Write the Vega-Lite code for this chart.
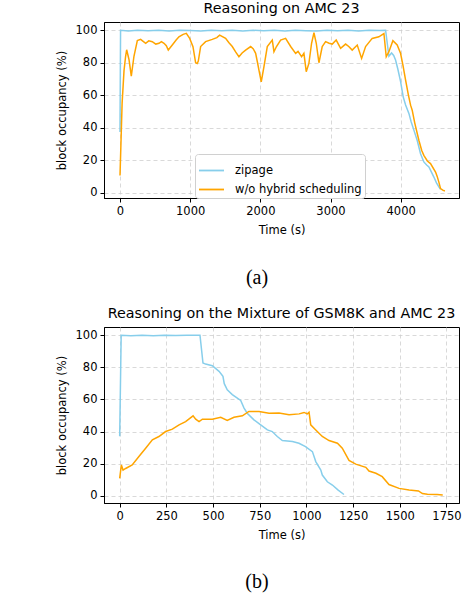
{
  "$schema": "https://vega.github.io/schema/vega-lite/v6.json",
  "padding": {"left": 55, "top": 1, "right": 0, "bottom": 0},
  "autosize": {"type": "pad"},
  "spacing": 16,
  "datasets": {
    "a": [
      {"s":"zipage","t":0,"v":37.4},{"s":"zipage","t":8,"v":100},{"s":"zipage","t":120,"v":99.6},{"s":"zipage","t":250,"v":100},{"s":"zipage","t":400,"v":99.7},{"s":"zipage","t":550,"v":100},{"s":"zipage","t":700,"v":99.5},{"s":"zipage","t":850,"v":100},{"s":"zipage","t":1000,"v":99.8},{"s":"zipage","t":1150,"v":99.6},{"s":"zipage","t":1300,"v":100},{"s":"zipage","t":1450,"v":99.7},{"s":"zipage","t":1600,"v":100},{"s":"zipage","t":1750,"v":99.6},{"s":"zipage","t":1900,"v":100},{"s":"zipage","t":2050,"v":99.7},{"s":"zipage","t":2200,"v":100},{"s":"zipage","t":2350,"v":99.6},{"s":"zipage","t":2500,"v":100},{"s":"zipage","t":2650,"v":99.7},{"s":"zipage","t":2800,"v":99.5},{"s":"zipage","t":2950,"v":100},{"s":"zipage","t":3100,"v":99.7},{"s":"zipage","t":3250,"v":100},{"s":"zipage","t":3400,"v":99.6},{"s":"zipage","t":3550,"v":100},{"s":"zipage","t":3700,"v":99.8},{"s":"zipage","t":3785,"v":100},{"s":"zipage","t":3832,"v":84},{"s":"zipage","t":3870,"v":86},{"s":"zipage","t":3900,"v":84.5},{"s":"zipage","t":3927,"v":81.7},{"s":"zipage","t":3960,"v":76},{"s":"zipage","t":3998,"v":68.5},{"s":"zipage","t":4036,"v":59},{"s":"zipage","t":4070,"v":54},{"s":"zipage","t":4117,"v":48.8},{"s":"zipage","t":4150,"v":43.5},{"s":"zipage","t":4188,"v":38.5},{"s":"zipage","t":4235,"v":32.3},{"s":"zipage","t":4283,"v":24},{"s":"zipage","t":4330,"v":18.9},{"s":"zipage","t":4370,"v":17},{"s":"zipage","t":4402,"v":15.8},{"s":"zipage","t":4440,"v":12.5},{"s":"zipage","t":4473,"v":9.6},{"s":"zipage","t":4510,"v":6},{"s":"zipage","t":4544,"v":3.5},{"s":"zipage","t":4568,"v":2},
      {"s":"w/o hybrid scheduling","t":0,"v":10.5},{"s":"w/o hybrid scheduling","t":12,"v":28},{"s":"w/o hybrid scheduling","t":30,"v":55},{"s":"w/o hybrid scheduling","t":57,"v":75},{"s":"w/o hybrid scheduling","t":80,"v":84},{"s":"w/o hybrid scheduling","t":95,"v":88},{"s":"w/o hybrid scheduling","t":128,"v":82},{"s":"w/o hybrid scheduling","t":161,"v":71.8},{"s":"w/o hybrid scheduling","t":199,"v":84},{"s":"w/o hybrid scheduling","t":247,"v":93.6},{"s":"w/o hybrid scheduling","t":294,"v":94.4},{"s":"w/o hybrid scheduling","t":330,"v":93.2},{"s":"w/o hybrid scheduling","t":366,"v":92},{"s":"w/o hybrid scheduling","t":410,"v":93.5},{"s":"w/o hybrid scheduling","t":460,"v":93},{"s":"w/o hybrid scheduling","t":510,"v":91.5},{"s":"w/o hybrid scheduling","t":556,"v":92},{"s":"w/o hybrid scheduling","t":590,"v":93},{"s":"w/o hybrid scheduling","t":627,"v":92},{"s":"w/o hybrid scheduling","t":660,"v":90.5},{"s":"w/o hybrid scheduling","t":688,"v":87.8},{"s":"w/o hybrid scheduling","t":745,"v":90.9},{"s":"w/o hybrid scheduling","t":800,"v":94},{"s":"w/o hybrid scheduling","t":840,"v":96},{"s":"w/o hybrid scheduling","t":900,"v":97.5},{"s":"w/o hybrid scheduling","t":945,"v":98.1},{"s":"w/o hybrid scheduling","t":993,"v":95},{"s":"w/o hybrid scheduling","t":1040,"v":89.9},{"s":"w/o hybrid scheduling","t":1078,"v":80},{"s":"w/o hybrid scheduling","t":1100,"v":79.5},{"s":"w/o hybrid scheduling","t":1116,"v":81},{"s":"w/o hybrid scheduling","t":1149,"v":90},{"s":"w/o hybrid scheduling","t":1220,"v":93},{"s":"w/o hybrid scheduling","t":1315,"v":94.4},{"s":"w/o hybrid scheduling","t":1380,"v":95.5},{"s":"w/o hybrid scheduling","t":1420,"v":97},{"s":"w/o hybrid scheduling","t":1505,"v":95},{"s":"w/o hybrid scheduling","t":1550,"v":92.5},{"s":"w/o hybrid scheduling","t":1600,"v":90},{"s":"w/o hybrid scheduling","t":1650,"v":86.5},{"s":"w/o hybrid scheduling","t":1695,"v":83.7},{"s":"w/o hybrid scheduling","t":1740,"v":86},{"s":"w/o hybrid scheduling","t":1790,"v":87.8},{"s":"w/o hybrid scheduling","t":1862,"v":90},{"s":"w/o hybrid scheduling","t":1900,"v":88.5},{"s":"w/o hybrid scheduling","t":1933,"v":85.8},{"s":"w/o hybrid scheduling","t":1960,"v":80},{"s":"w/o hybrid scheduling","t":1980,"v":75.5},{"s":"w/o hybrid scheduling","t":2013,"v":68.3},{"s":"w/o hybrid scheduling","t":2051,"v":77.5},{"s":"w/o hybrid scheduling","t":2099,"v":90},{"s":"w/o hybrid scheduling","t":2170,"v":94},{"s":"w/o hybrid scheduling","t":2194,"v":86.8},{"s":"w/o hybrid scheduling","t":2230,"v":90},{"s":"w/o hybrid scheduling","t":2289,"v":94},{"s":"w/o hybrid scheduling","t":2360,"v":95},{"s":"w/o hybrid scheduling","t":2432,"v":90},{"s":"w/o hybrid scheduling","t":2503,"v":85.8},{"s":"w/o hybrid scheduling","t":2537,"v":87},{"s":"w/o hybrid scheduling","t":2588,"v":83.7},{"s":"w/o hybrid scheduling","t":2621,"v":85.8},{"s":"w/o hybrid scheduling","t":2654,"v":74.5},{"s":"w/o hybrid scheduling","t":2692,"v":79.6},{"s":"w/o hybrid scheduling","t":2730,"v":92},{"s":"w/o hybrid scheduling","t":2764,"v":98.5},{"s":"w/o hybrid scheduling","t":2797,"v":92},{"s":"w/o hybrid scheduling","t":2835,"v":80},{"s":"w/o hybrid scheduling","t":2882,"v":90},{"s":"w/o hybrid scheduling","t":2930,"v":93},{"s":"w/o hybrid scheduling","t":2980,"v":92},{"s":"w/o hybrid scheduling","t":3025,"v":91.5},{"s":"w/o hybrid scheduling","t":3081,"v":94},{"s":"w/o hybrid scheduling","t":3144,"v":88.9},{"s":"w/o hybrid scheduling","t":3215,"v":91.5},{"s":"w/o hybrid scheduling","t":3260,"v":90},{"s":"w/o hybrid scheduling","t":3309,"v":87.8},{"s":"w/o hybrid scheduling","t":3381,"v":90.9},{"s":"w/o hybrid scheduling","t":3443,"v":82.7},{"s":"w/o hybrid scheduling","t":3500,"v":90},{"s":"w/o hybrid scheduling","t":3594,"v":95},{"s":"w/o hybrid scheduling","t":3689,"v":96},{"s":"w/o hybrid scheduling","t":3761,"v":98},{"s":"w/o hybrid scheduling","t":3794,"v":83.7},{"s":"w/o hybrid scheduling","t":3832,"v":86.8},{"s":"w/o hybrid scheduling","t":3889,"v":93.6},{"s":"w/o hybrid scheduling","t":3950,"v":91},{"s":"w/o hybrid scheduling","t":3998,"v":85.8},{"s":"w/o hybrid scheduling","t":4030,"v":79},{"s":"w/o hybrid scheduling","t":4070,"v":69.3},{"s":"w/o hybrid scheduling","t":4110,"v":60},{"s":"w/o hybrid scheduling","t":4141,"v":53.9},{"s":"w/o hybrid scheduling","t":4164,"v":50.8},{"s":"w/o hybrid scheduling","t":4200,"v":43},{"s":"w/o hybrid scheduling","t":4259,"v":32.3},{"s":"w/o hybrid scheduling","t":4300,"v":26},{"s":"w/o hybrid scheduling","t":4330,"v":23},{"s":"w/o hybrid scheduling","t":4380,"v":19.5},{"s":"w/o hybrid scheduling","t":4425,"v":17.9},{"s":"w/o hybrid scheduling","t":4497,"v":12.7},{"s":"w/o hybrid scheduling","t":4520,"v":10},{"s":"w/o hybrid scheduling","t":4544,"v":6.5},{"s":"w/o hybrid scheduling","t":4568,"v":2.5},{"s":"w/o hybrid scheduling","t":4600,"v":1.5},{"s":"w/o hybrid scheduling","t":4630,"v":1}
    ],
    "b": [
      {"s":"zipage","t":0,"v":37},{"s":"zipage","t":8,"v":100},{"s":"zipage","t":60,"v":99.7},{"s":"zipage","t":120,"v":100},{"s":"zipage","t":180,"v":99.6},{"s":"zipage","t":240,"v":100},{"s":"zipage","t":300,"v":99.8},{"s":"zipage","t":360,"v":100},{"s":"zipage","t":430,"v":100},{"s":"zipage","t":446,"v":82.7},{"s":"zipage","t":460,"v":82},{"s":"zipage","t":496,"v":81},{"s":"zipage","t":532,"v":77.5},{"s":"zipage","t":553,"v":74.4},{"s":"zipage","t":560,"v":69.8},{"s":"zipage","t":576,"v":66},{"s":"zipage","t":603,"v":63},{"s":"zipage","t":630,"v":60.8},{"s":"zipage","t":648,"v":59.4},{"s":"zipage","t":666,"v":54.6},{"s":"zipage","t":683,"v":51.4},{"s":"zipage","t":719,"v":47.3},{"s":"zipage","t":755,"v":44.2},{"s":"zipage","t":791,"v":41},{"s":"zipage","t":817,"v":40},{"s":"zipage","t":844,"v":36.9},{"s":"zipage","t":871,"v":34.4},{"s":"zipage","t":925,"v":33.8},{"s":"zipage","t":960,"v":32.7},{"s":"zipage","t":995,"v":30.6},{"s":"zipage","t":1032,"v":27.5},{"s":"zipage","t":1050,"v":21.3},{"s":"zipage","t":1077,"v":16},{"s":"zipage","t":1085,"v":12.9},{"s":"zipage","t":1112,"v":8.7},{"s":"zipage","t":1139,"v":6.7},{"s":"zipage","t":1170,"v":3.5},{"s":"zipage","t":1201,"v":0.8},
      {"s":"w/o hybrid scheduling","t":0,"v":10.8},{"s":"w/o hybrid scheduling","t":9,"v":19.2},{"s":"w/o hybrid scheduling","t":18,"v":16},{"s":"w/o hybrid scheduling","t":32,"v":17},{"s":"w/o hybrid scheduling","t":67,"v":19.2},{"s":"w/o hybrid scheduling","t":103,"v":24.4},{"s":"w/o hybrid scheduling","t":139,"v":29.6},{"s":"w/o hybrid scheduling","t":175,"v":34.8},{"s":"w/o hybrid scheduling","t":210,"v":36.9},{"s":"w/o hybrid scheduling","t":246,"v":40},{"s":"w/o hybrid scheduling","t":282,"v":41.5},{"s":"w/o hybrid scheduling","t":318,"v":44.2},{"s":"w/o hybrid scheduling","t":353,"v":46.2},{"s":"w/o hybrid scheduling","t":393,"v":49.8},{"s":"w/o hybrid scheduling","t":407,"v":47.7},{"s":"w/o hybrid scheduling","t":425,"v":46.2},{"s":"w/o hybrid scheduling","t":443,"v":47.7},{"s":"w/o hybrid scheduling","t":496,"v":47.7},{"s":"w/o hybrid scheduling","t":541,"v":48.9},{"s":"w/o hybrid scheduling","t":576,"v":46.9},{"s":"w/o hybrid scheduling","t":612,"v":48.9},{"s":"w/o hybrid scheduling","t":657,"v":49.8},{"s":"w/o hybrid scheduling","t":692,"v":52.5},{"s":"w/o hybrid scheduling","t":746,"v":52.5},{"s":"w/o hybrid scheduling","t":800,"v":51.4},{"s":"w/o hybrid scheduling","t":853,"v":51.5},{"s":"w/o hybrid scheduling","t":907,"v":50.4},{"s":"w/o hybrid scheduling","t":961,"v":51},{"s":"w/o hybrid scheduling","t":987,"v":51.9},{"s":"w/o hybrid scheduling","t":1005,"v":51},{"s":"w/o hybrid scheduling","t":1014,"v":52},{"s":"w/o hybrid scheduling","t":1023,"v":44.2},{"s":"w/o hybrid scheduling","t":1050,"v":41},{"s":"w/o hybrid scheduling","t":1085,"v":36.9},{"s":"w/o hybrid scheduling","t":1121,"v":34.4},{"s":"w/o hybrid scheduling","t":1166,"v":32.7},{"s":"w/o hybrid scheduling","t":1192,"v":29.6},{"s":"w/o hybrid scheduling","t":1228,"v":22},{"s":"w/o hybrid scheduling","t":1264,"v":19.7},{"s":"w/o hybrid scheduling","t":1318,"v":17.7},{"s":"w/o hybrid scheduling","t":1335,"v":15.4},{"s":"w/o hybrid scheduling","t":1372,"v":14},{"s":"w/o hybrid scheduling","t":1406,"v":11.9},{"s":"w/o hybrid scheduling","t":1442,"v":7},{"s":"w/o hybrid scheduling","t":1496,"v":4.6},{"s":"w/o hybrid scheduling","t":1550,"v":3.6},{"s":"w/o hybrid scheduling","t":1600,"v":3},{"s":"w/o hybrid scheduling","t":1621,"v":1.4},{"s":"w/o hybrid scheduling","t":1648,"v":1},{"s":"w/o hybrid scheduling","t":1700,"v":0.8},{"s":"w/o hybrid scheduling","t":1730,"v":0.5}
    ],
    "capa": [{"c": "(a)"}],
    "capb": [{"c": "(b)"}]
  },
  "vconcat": [
    {
      "spacing": 29,
      "vconcat": [
        {
          "title": "Reasoning on AMC 23",
          "width": 355,
          "height": 176,
          "data": {"name": "a"},
          "mark": {"type": "line", "strokeWidth": 1.5, "clip": true},
          "encoding": {
            "x": {"field": "t", "type": "quantitative", "scale": {"domain": [-228, 4831], "nice": false, "zero": false}, "axis": {"values": [0, 1000, 2000, 3000, 4000], "title": "Time (s)", "format": "d"}},
            "y": {"field": "v", "type": "quantitative", "scale": {"domain": [-3.3, 105.1], "nice": false, "zero": false}, "axis": {"values": [0, 20, 40, 60, 80, 100], "title": "block occupancy (%)"}},
            "color": {"field": "s", "type": "nominal", "scale": {"domain": ["zipage", "w/o hybrid scheduling"], "range": ["#87CEEB", "#FFA500"]}, "legend": {"title": null, "orient": "none", "legendX": 91, "legendY": 132}}
          }
        },
        {
          "width": 306,
          "height": 24,
          "view": {"stroke": null},
          "data": {"name": "capa"},
          "mark": {"type": "text", "font": "Liberation Serif", "fontSize": 20, "baseline": "middle", "align": "center"},
          "encoding": {"text": {"field": "c", "type": "nominal"}}
        }
      ]
    },
    {
      "spacing": 28,
      "vconcat": [
        {
          "title": "Reasoning on the Mixture of GSM8K and AMC 23",
          "width": 355,
          "height": 176,
          "data": {"name": "b"},
          "mark": {"type": "line", "strokeWidth": 1.5, "clip": true},
          "encoding": {
            "x": {"field": "t", "type": "quantitative", "scale": {"domain": [-84, 1817], "nice": false, "zero": false}, "axis": {"values": [0, 250, 500, 750, 1000, 1250, 1500, 1750], "title": "Time (s)", "format": "d"}},
            "y": {"field": "v", "type": "quantitative", "scale": {"domain": [-4.5, 105.1], "nice": false, "zero": false}, "axis": {"values": [0, 20, 40, 60, 80, 100], "title": "block occupancy (%)"}},
            "color": {"field": "s", "type": "nominal", "scale": {"domain": ["zipage", "w/o hybrid scheduling"], "range": ["#87CEEB", "#FFA500"]}, "legend": {"title": null, "orient": "none", "legendX": 173, "legendY": 6}}
          }
        },
        {
          "width": 306,
          "height": 24,
          "view": {"stroke": null},
          "data": {"name": "capb"},
          "mark": {"type": "text", "font": "Liberation Serif", "fontSize": 20, "baseline": "middle", "align": "center"},
          "encoding": {"text": {"field": "c", "type": "nominal"}}
        }
      ]
    }
  ],
  "config": {
    "font": "DejaVu Sans",
    "view": {"stroke": "#000", "strokeWidth": 1},
    "axis": {"labelFont": "DejaVu Sans", "labelFontSize": 11.5, "labelColor": "#000", "titleFont": "DejaVu Sans", "titleFontSize": 11.5, "titleFontWeight": "normal", "titleColor": "#000", "tickColor": "#000", "tickSize": 4, "domainColor": "#000", "gridColor": "#cfcfcf", "gridDash": [4, 3], "gridWidth": 0.8, "labelPadding": 3, "titlePadding": 8},
    "title": {"font": "DejaVu Sans", "fontSize": 14.3, "fontWeight": "normal", "color": "#000", "offset": 6},
    "legend": {"labelFont": "DejaVu Sans", "labelFontSize": 11.5, "labelColor": "#000", "symbolType": "stroke", "symbolStrokeWidth": 1.8, "symbolSize": 625, "rowPadding": -8, "labelOffset": 10, "padding": 3, "fillColor": "#ffffff", "strokeColor": "#d0d0d0", "cornerRadius": 3}
  }
}
